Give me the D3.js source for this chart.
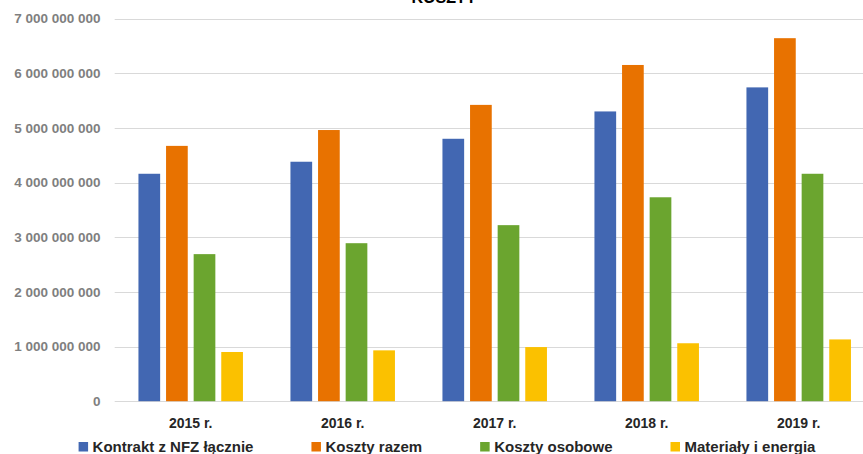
<!DOCTYPE html>
<html lang="pl">
<head>
  <meta charset="utf-8">
  <title>KOSZTY</title>
  <script type="text/javascript" src="https://d3js.org/d3.v7.min.js"></script>
</head>
<style>
body {
  margin: 0;
  background: #fff;
  font-family: "Liberation Sans", Arial, sans-serif;
}
.grid line {
  stroke: #d9d9d9;
  stroke-width: 1px;
}
</style>
<body>
  <script type="text/javascript">
  // data
  var years = ["2015 r.", "2016 r.", "2017 r.", "2018 r.", "2019 r."];
  var seriesNames = ["Kontrakt z NFZ łącznie", "Koszty razem", "Koszty osobowe", "Materiały i energia"];
  var kontrakt = [4160000000, 4380000000, 4800000000, 5300000000, 5740000000];
  var kosztyRazem = [4670000000, 4960000000, 5420000000, 6150000000, 6640000000];
  var kosztyOsobowe = [2690000000, 2890000000, 3220000000, 3730000000, 4160000000];
  var materialy = [900000000, 930000000, 990000000, 1060000000, 1130000000];
  var yTicks = [0, 1000000000, 2000000000, 3000000000, 4000000000, 5000000000, 6000000000, 7000000000];

  var colors = ["#4267b2", "#e87200", "#6ba52f", "#fbc100"];
  var allSeries = [kontrakt, kosztyRazem, kosztyOsobowe, materialy];

  var w = 863;
  var h = 454;

  var svg = d3.select("body")
      .append("svg")
      .attr("width", w)
      .attr("height", h);

  // scales
  var x0 = d3.scaleBand()
      .domain(years)
      .range([114.7, 874.7])
      .paddingInner(0.3125)
      .paddingOuter(0.15625);

  var x1 = d3.scaleBand()
      .domain(d3.range(seriesNames.length))
      .range([0, x0.bandwidth()])
      .paddingInner(0.214)
      .paddingOuter(0);

  var y = d3.scaleLinear()
      .domain([0, 7000000000])
      .range([401.2, 18.5]);

  // format 7000000000 -> "7 000 000 000"
  var fmt = function(d) {
    return d3.format(",")(d).replace(/,/g, " ");
  };

  // gridlines
  svg.append("g")
     .attr("class", "grid")
     .selectAll("line")
     .data(yTicks)
     .enter()
     .append("line")
     .attr("x1", 114.7)
     .attr("x2", w)
     .attr("y1", function(d) { return Math.round(y(d)) + 0.5; })
     .attr("y2", function(d) { return Math.round(y(d)) + 0.5; });

  // y axis labels
  svg.append("g")
     .selectAll("text")
     .data(yTicks)
     .enter()
     .append("text")
     .attr("x", 100.5)
     .attr("y", function(d) { return y(d); })
     .attr("dy", "0.35em")
     .style("text-anchor", "end")
     .style("font-size", "13.5px")
     .style("font-weight", "bold")
     .style("fill", "#7f7f7f")
     .text(fmt);

  // bars
  var groups = svg.append("g")
     .selectAll("g")
     .data(years)
     .enter()
     .append("g")
     .attr("transform", function(d) { return "translate(" + x0(d) + ",0)"; });

  groups.selectAll("rect")
     .data(function(d, i) {
       return allSeries.map(function(s, k) { return {k: k, value: s[i]}; });
     })
     .enter()
     .append("rect")
     .attr("x", function(d) { return x1(d.k); })
     .attr("width", x1.bandwidth())
     .attr("y", function(d) { return y(d.value); })
     .attr("height", function(d) { return y(0) - y(d.value); })
     .style("fill", function(d) { return colors[d.k]; });

  // category labels
  svg.append("g")
     .selectAll("text")
     .data(years)
     .enter()
     .append("text")
     .attr("x", function(d) { return x0(d) + x0.bandwidth() / 2; })
     .attr("y", 428)
     .style("text-anchor", "middle")
     .style("font-size", "14px")
     .style("font-weight", "bold")
     .style("fill", "#262626")
     .text(function(d) { return d; });

  // title (cut off at the top in the original)
  svg.append("text")
     .attr("x", 444)
     .attr("y", 3)
     .style("text-anchor", "middle")
     .style("font-size", "16px")
     .style("font-weight", "bold")
     .style("fill", "#000")
     .text("KOSZTY");

  // legend
  var legend = svg.append("g");
  var items = legend.selectAll("g")
     .data(seriesNames)
     .enter()
     .append("g");
  items.append("rect")
     .attr("y", 442)
     .attr("width", 9.5)
     .attr("height", 9.5)
     .style("fill", function(d, i) { return colors[i]; });
  items.append("text")
     .attr("x", 14)
     .attr("y", 452)
     .style("font-size", "15px")
     .style("font-weight", "bold")
     .style("fill", "#262626")
     .text(function(d) { return d; });

  var lx = 0;
  items.each(function() {
    var g = d3.select(this);
    g.attr("transform", "translate(" + lx + ",0)");
    lx += 14 + g.select("text").node().getComputedTextLength() + 58;
  });
  var legendWidth = lx - 58;
  legend.attr("transform", "translate(" + (447 - legendWidth / 2) + ",0)");
  </script>
</body>
</html>
